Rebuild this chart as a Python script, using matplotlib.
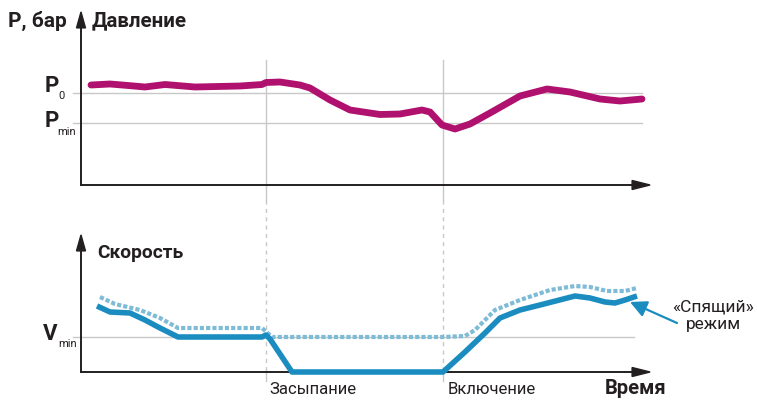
import matplotlib
matplotlib.use("Agg")
import matplotlib.pyplot as plt
from matplotlib.patches import FancyArrow

plt.rcParams['font.family'] = ['Roboto', 'DejaVu Sans']

W, H = 757, 403
DPI = 100

# ---------------- data (time units, arbitrary pressure/speed units) -------------
t_pressure = [10, 29, 47, 64, 84, 114, 159, 181, 185, 199, 219, 229, 249, 269,
              299, 319, 341, 349, 361, 374, 389, 409, 439, 466, 489, 519, 539, 561]
pressure = [100, 101, 99.5, 98, 100.5, 98, 99, 100.5, 102.5, 103, 100, 97, 85, 75,
            70.5, 71, 75, 73, 60, 56, 61, 72, 89, 96, 93, 86, 84, 86]
P0_level, Pmin_level = 92, 62

t_speed = [16, 29, 49, 64, 79, 97, 181, 185, 189, 211, 362, 384, 404, 419, 439,
           459, 494, 509, 524, 534, 544, 556]
speed = [66, 60, 59, 52, 44, 35, 35, 37, 33, 0, 0, 20, 39, 54, 62,
         67, 76, 74, 70, 69, 72, 76]

t_speed_sleep = [19, 34, 59, 79, 97, 181, 191, 362, 384, 394, 414, 439, 469, 494,
                 509, 526, 544, 556]
speed_sleep = [75, 68, 62, 54, 44, 44, 35, 35, 36, 42, 62, 72, 82, 86,
               85, 81, 81, 84]
Vmin_level = 35

t_sleep, t_wake = 185, 362
event_labels = ["Засыпание", "Включение"]

# ---------------- styling ----------------
TXT = '#231f20'
MAG = '#b0106e'
BLUE = '#1a8cbf'
LBLUE = '#7dbbd6'
GRID = '#c8c8c8'

fig = plt.figure(figsize=(W / DPI, H / DPI), dpi=DPI)


def fx(px):
    return px / W


def fy(py):
    return 1 - py / H


# axes in pixel geometry
x0, x1 = 81, 650
ax1 = fig.add_axes([fx(x0), fy(185), fx(x1 - x0), (185 - 12) / H])
ax2 = fig.add_axes([fx(x0), fy(372), fx(x1 - x0), (372 - 235) / H])
ax1.set_xlim(0, x1 - x0)
ax1.set_ylim(0, 173)
ax2.set_xlim(0, x1 - x0)
ax2.set_ylim(0, 137)
for ax in (ax1, ax2):
    ax.axis('off')

# gridlines
for lev in (P0_level, Pmin_level):
    ax1.plot([-8, 561], [lev, lev], color=GRID, lw=1.0, clip_on=False, zorder=1)
ax2.plot([-8, 553], [Vmin_level, Vmin_level], color=GRID, lw=1.0, clip_on=False, zorder=1)

# vertical event lines
for tv in (t_sleep, t_wake):
    ax1.plot([tv, tv], [125, -15], color=GRID, lw=1.0, clip_on=False, zorder=1)
    ax2.plot([tv, tv], [172, 0], color=GRID, lw=1.0, ls=(0, (3, 3)), clip_on=False, zorder=1)
    ax2.plot([tv, tv], [0, -9], color=GRID, lw=1.0, clip_on=False, zorder=1)

# axes with arrows
for ax, ytop in ((ax1, 173), (ax2, 137)):
    ax.plot([0, 0], [0, ytop - 14], color=TXT, lw=1.4, clip_on=False, zorder=3)
    ax.plot([0, x1 - x0 - 16], [0, 0], color=TXT, lw=1.4, clip_on=False, zorder=3)
    ax.add_patch(FancyArrow(0, ytop - 16, 0, 0.1, width=0, head_width=9, head_length=16,
                            length_includes_head=False, color=TXT, clip_on=False, zorder=3))
    ax.add_patch(FancyArrow(x1 - x0 - 18, 0, 0.1, 0, width=0, head_width=9, head_length=18,
                            length_includes_head=False, color=TXT, clip_on=False, zorder=3))

# series
ax1.plot(t_pressure, pressure, color=MAG, lw=4.9, solid_capstyle='round',
         solid_joinstyle='round', clip_on=False, zorder=4)
ax2.plot(t_speed_sleep, speed_sleep, color=LBLUE, lw=3.0, ls=(0, (1.0, 0.5)),
         dash_capstyle='butt', clip_on=False, zorder=4)
ax2.plot(t_speed, speed, color=BLUE, lw=4.0, solid_capstyle='butt',
         solid_joinstyle='round', clip_on=False, zorder=5)

# sleep-mode annotation arrow
ax2.annotate('', xy=(549, 70), xytext=(596, 49),
             arrowprops=dict(arrowstyle='-|>,head_length=1.0,head_width=0.5',
                             color=BLUE, lw=1.6, shrinkA=0, shrinkB=0),
             annotation_clip=False, zorder=6)

# texts
fig.text(fx(8), fy(21), 'P, бар', fontsize=15, fontweight='bold', color=TXT, va='center', ha='left')
fig.text(fx(92), fy(21), 'Давление', fontsize=14.8, fontweight='bold', color=TXT, va='center', ha='left')
fig.text(fx(45), fy(86), 'P', fontsize=16, fontweight='bold', color=TXT, va='center', ha='left')
fig.text(fx(58), fy(96), '0', fontsize=8, color=TXT, va='center', ha='left')
fig.text(fx(45), fy(121), 'P', fontsize=16, fontweight='bold', color=TXT, va='center', ha='left')
fig.text(fx(57), fy(132), 'min', fontsize=8, color=TXT, va='center', ha='left')
fig.text(fx(43), fy(334), 'V', fontsize=16, fontweight='bold', color=TXT, va='center', ha='left')
fig.text(fx(58), fy(344), 'min', fontsize=8, color=TXT, va='center', ha='left')
fig.text(fx(97), fy(253), 'Скорость', fontsize=13.8, fontweight='bold', color=TXT, va='center', ha='left')
fig.text(fx(269), fy(389), event_labels[0], fontsize=12, color=TXT, va='center', ha='left')
fig.text(fx(448), fy(389), event_labels[1], fontsize=12, color=TXT, va='center', ha='left')
fig.text(fx(605), fy(388), 'Время', fontsize=14.5, fontweight='bold', color=TXT, va='center', ha='left')
fig.text(fx(713), fy(307), '«Спящий»', fontsize=12.5, color=TXT, va='center', ha='center')
fig.text(fx(713), fy(325), 'режим', fontsize=12.5, color=TXT, va='center', ha='center')

fig.savefig('out.png', dpi=DPI)
